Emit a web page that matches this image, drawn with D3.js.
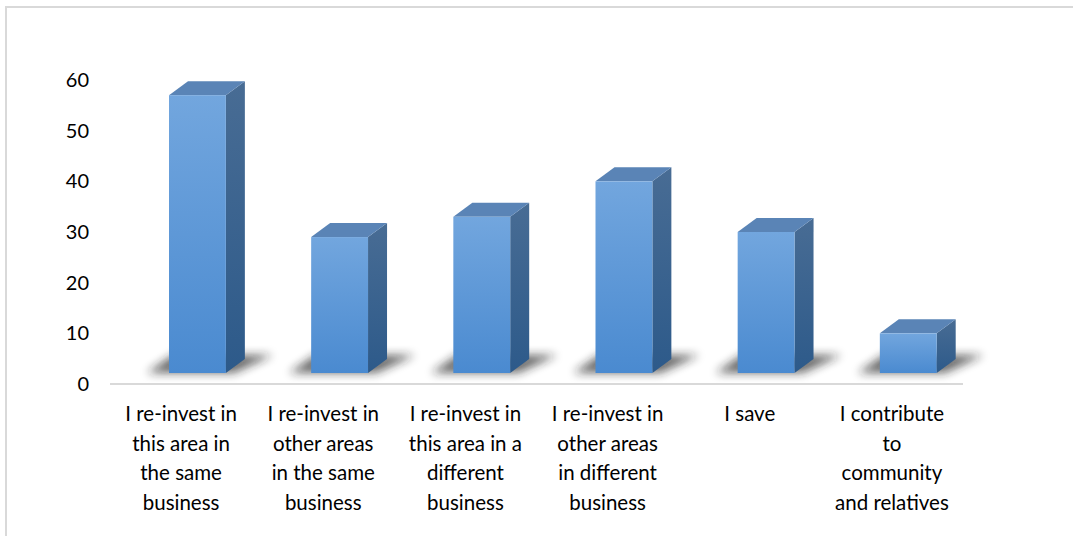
<!DOCTYPE html>
<html>
<head>
<meta charset="utf-8">
<script src="https://cdn.jsdelivr.net/npm/d3@7"></script>
<style>
  html, body { margin: 0; padding: 0; background: #fff; }
  svg { display: block; }
  text { font-family: Lato, "Open Sans", sans-serif; fill: #000; }
</style>
</head>
<body>
<svg id="chart" width="1073" height="536"></svg>
<script>
// Uses of earnings
const categories = [
  "I re-invest in this area in the same business",
  "I re-invest in other areas in the same business",
  "I re-invest in this area in a different business",
  "I re-invest in other areas in different business",
  "I save",
  "I contribute to community and relatives"
];
const labelLines = [
  ["I re-invest in", "this area in", "the same", "business"],
  ["I re-invest in", "other areas", "in the same", "business"],
  ["I re-invest in", "this area in a", "different", "business"],
  ["I re-invest in", "other areas", "in different", "business"],
  ["I save"],
  ["I contribute", "to", "community", "and relatives"]
];
const values = [57, 29, 33, 40, 30, 10];
const yTicks = [0, 10, 20, 30, 40, 50, 60];

const W = 1073, H = 536;
const svg = d3.select("#chart");

// Chart frame (clipped at right and bottom)
svg.append("path")
  .attr("d", `M6,${H + 5} L6,7 L${W + 5},7`)
  .attr("fill", "none")
  .attr("stroke", "#d9d9d9")
  .attr("stroke-width", 2);

const x = d3.scaleBand().domain(categories).range([110, 963]).paddingInner(0).paddingOuter(0);
const y = d3.scaleLinear().domain([0, 60]).range([384, 80]);

// 3D geometry
const depthX = 19, depthY = 14;
const floorY = y(0) - 11;
const frontOffset = 0.415, frontWidth = 0.4;

const defs = svg.append("defs");
const gFront = defs.append("linearGradient").attr("id", "gFront").attr("x1", 0).attr("y1", 0).attr("x2", 0).attr("y2", 1);
gFront.append("stop").attr("offset", "0%").attr("stop-color", "#72a6de");
gFront.append("stop").attr("offset", "100%").attr("stop-color", "#4a8ad0");
const gSide = defs.append("linearGradient").attr("id", "gSide").attr("x1", 0).attr("y1", 0).attr("x2", 0).attr("y2", 1);
gSide.append("stop").attr("offset", "0%").attr("stop-color", "#486c94");
gSide.append("stop").attr("offset", "100%").attr("stop-color", "#2d5a8a");
const blur = defs.append("filter").attr("id", "shadowBlur")
  .attr("x", "-50%").attr("y", "-100%").attr("width", "200%").attr("height", "300%");
blur.append("feGaussianBlur").attr("stdDeviation", 5);

// Axis baseline
svg.append("line")
  .attr("x1", x.range()[0]).attr("x2", x.range()[1])
  .attr("y1", y(0)).attr("y2", y(0))
  .attr("stroke", "#d9d9d9").attr("stroke-width", 2);

// Value axis labels
const yAxis = d3.axisLeft(y).tickValues(yTicks).tickSize(0).tickPadding(0);
const yG = svg.append("g").attr("transform", "translate(89,0)").call(yAxis);
yG.select(".domain").remove();
yG.selectAll("text").attr("font-size", 20).attr("fill", "#000")
  .style("font-family", "Lato, 'Open Sans', sans-serif");

const bars = svg.append("g").selectAll("g.bar")
  .data(categories.map((c, i) => ({ c, v: values[i] })))
  .join("g").attr("class", "bar");

// Floor shadow under each bar
bars.append("path")
  .attr("d", d => {
    const x0 = x(d.c) + x.bandwidth() * frontOffset;
    const w = x.bandwidth() * frontWidth;
    return `M${x0 - 22},${floorY} L${x0 + w + 8},${floorY} L${x0 + w + depthX + 28},${floorY - depthY - 4} L${x0 + 4},${floorY - depthY - 4} Z`;
  })
  .attr("fill", "#1a1a1a").attr("opacity", 0.65)
  .attr("filter", "url(#shadowBlur)");

// Side face
bars.append("path")
  .attr("d", d => {
    const x1 = x(d.c) + x.bandwidth() * (frontOffset + frontWidth);
    const yt = y(d.v);
    return `M${x1},${yt} L${x1 + depthX},${yt - depthY} L${x1 + depthX},${floorY - depthY} L${x1},${floorY} Z`;
  })
  .attr("fill", "url(#gSide)");

// Top face
bars.append("path")
  .attr("d", d => {
    const x0 = x(d.c) + x.bandwidth() * frontOffset;
    const w = x.bandwidth() * frontWidth;
    const yt = y(d.v);
    return `M${x0},${yt} L${x0 + depthX},${yt - depthY} L${x0 + w + depthX},${yt - depthY} L${x0 + w},${yt} Z`;
  })
  .attr("fill", "#5a84b6");

// Front face
bars.append("rect")
  .attr("x", d => x(d.c) + x.bandwidth() * frontOffset)
  .attr("y", d => y(d.v))
  .attr("width", x.bandwidth() * frontWidth)
  .attr("height", d => floorY - y(d.v))
  .attr("fill", "url(#gFront)");

// Category labels
const lab = svg.append("g").selectAll("text")
  .data(categories.map((c, i) => ({ c, lines: labelLines[i] })))
  .join("text")
  .attr("font-size", 20.5)
  .attr("text-anchor", "middle")
  .attr("transform", d => `translate(${x(d.c) + x.bandwidth() / 2},421)`);
lab.selectAll("tspan")
  .data(d => d.lines)
  .join("tspan")
  .attr("x", 0)
  .attr("y", (t, i) => i * 29.5)
  .text(t => t);
</script>
</body>
</html>
